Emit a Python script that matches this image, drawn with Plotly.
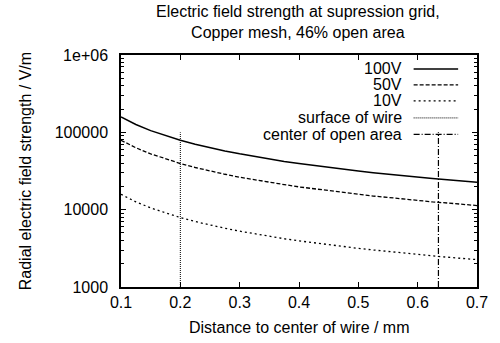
import plotly.graph_objects as go

# Distance from wire centre (mm) and radial field strength (V/m) per grid voltage
distance_mm = [0.100, 0.125, 0.150, 0.175, 0.200, 0.225, 0.250, 0.275, 0.300, 0.325, 0.350,
               0.375, 0.400, 0.425, 0.450, 0.475, 0.500, 0.525, 0.550, 0.575, 0.600, 0.625,
               0.650, 0.675, 0.700]
field_100v = [158000, 126400, 105300, 90300, 79000, 70200, 63200, 57500, 52700, 48600, 45100,
              42100, 39500, 37200, 35100, 33300, 31600, 30100, 28700, 27500, 26300, 25300,
              24300, 23400, 22600]
field_50v = [79000, 63200, 52700, 45100, 39500, 35100, 31600, 28700, 26300, 24300, 22600,
             21100, 19700, 18600, 17600, 16600, 15800, 15000, 14400, 13700, 13200, 12600,
             12200, 11700, 11300]
field_10v = [15800, 12640, 10530, 9030, 7900, 7020, 6320, 5750, 5270, 4860, 4510, 4210, 3950,
             3720, 3510, 3330, 3160, 3010, 2870, 2750, 2630, 2530, 2430, 2340, 2260]

# Geometry markers: wire surface and the middle of the open mesh area
wire_surface_mm = 0.2
open_area_center_mm = 0.635
marker_span = [1000, 100000]

y_tickvals = [1000, 10000, 100000, 1000000]
y_ticktext = ["1000", "10000", "100000", "1e+06"]

FONT = "Liberation Sans, Arial, sans-serif"
FS = 16

series = [
    ("100V", distance_mm, field_100v, "solid", 1.5),
    ("50V", distance_mm, field_50v, "4px,2px", 1.3),
    ("10V", distance_mm, field_10v, "2px,3px", 1.3),
    ("surface of wire", [wire_surface_mm, wire_surface_mm], marker_span, "1px,1px", 1),
    ("center of open area", [open_area_center_mm, open_area_center_mm], marker_span,
     "6px,2px,1px,2px", 1.2),
]

fig = go.Figure()
for name, xs, ys, dash, w in series:
    fig.add_trace(go.Scatter(
        x=xs, y=ys, mode="lines", name=name, showlegend=False,
        line=dict(color="black", width=w, dash=dash),
    ))

# Key in the upper right: right-aligned label followed by a line sample
row_px = [69, 85, 101, 118, 134.5]
plot_top, plot_bottom = 55, 287.3
for (name, _, _, dash, w), py in zip(series, row_px):
    yp = (plot_bottom - py) / (plot_bottom - plot_top)
    fig.add_annotation(x=0.794, y=yp, xref="paper", yref="paper", text=name,
                       showarrow=False, xanchor="right", yanchor="middle",
                       font=dict(family=FONT, size=FS, color="black"))
    fig.add_shape(type="line", xref="paper", yref="paper", x0=0.822, x1=0.947,
                  y0=yp, y1=yp, line=dict(color="black", width=w, dash=dash))

fig.add_annotation(
    x=0.497, y=1.0, xref="paper", yref="paper", yshift=33, showarrow=False,
    text="Electric field strength at supression grid,<br>Copper mesh, 46% open area",
    font=dict(family=FONT, size=FS, color="black"), yanchor="middle",
)
fig.add_annotation(
    x=0.5, y=-0.175, xref="paper", yref="paper", showarrow=False,
    text="Distance to center of wire / mm", yanchor="middle",
    font=dict(family=FONT, size=FS, color="black"),
)
fig.add_annotation(
    x=-0.269, y=0.5, xref="paper", yref="paper", showarrow=False, textangle=-90,
    text="Radial electric field strength / V/m", xanchor="center", yanchor="middle",
    font=dict(family=FONT, size=FS, color="black"),
)

fig.update_xaxes(
    range=[0.1, 0.7], tickvals=[0.1, 0.2, 0.3, 0.4, 0.5, 0.6, 0.7],
    ticktext=["0.1", "0.2", "0.3", "0.4", "0.5", "0.6", "0.7"],
    ticks="inside", ticklen=5, tickwidth=1, tickcolor="black",
    showline=True, linecolor="black", linewidth=1.5, mirror="allticks",
    showgrid=False, zeroline=False,
    tickfont=dict(family=FONT, size=FS, color="black"),
)
fig.update_yaxes(
    type="log", range=[3, 6], tickvals=y_tickvals, ticktext=y_ticktext,
    ticks="inside", ticklen=5, tickwidth=1, tickcolor="black",
    showline=True, linecolor="black", linewidth=1.5, mirror="allticks",
    showgrid=False, zeroline=False, ticklabelstandoff=8,
    minor=dict(ticks="inside", ticklen=3, tickwidth=1, tickcolor="black", dtick="D1",
               showgrid=False),
    tickfont=dict(family=FONT, size=FS, color="black"),
)
fig.update_layout(
    width=500, height=343,
    margin=dict(l=121, r=19, t=55, b=56),
    plot_bgcolor="white", paper_bgcolor="white",
    font=dict(family=FONT, size=FS, color="black"),
)
fig.write_html("out.html")
